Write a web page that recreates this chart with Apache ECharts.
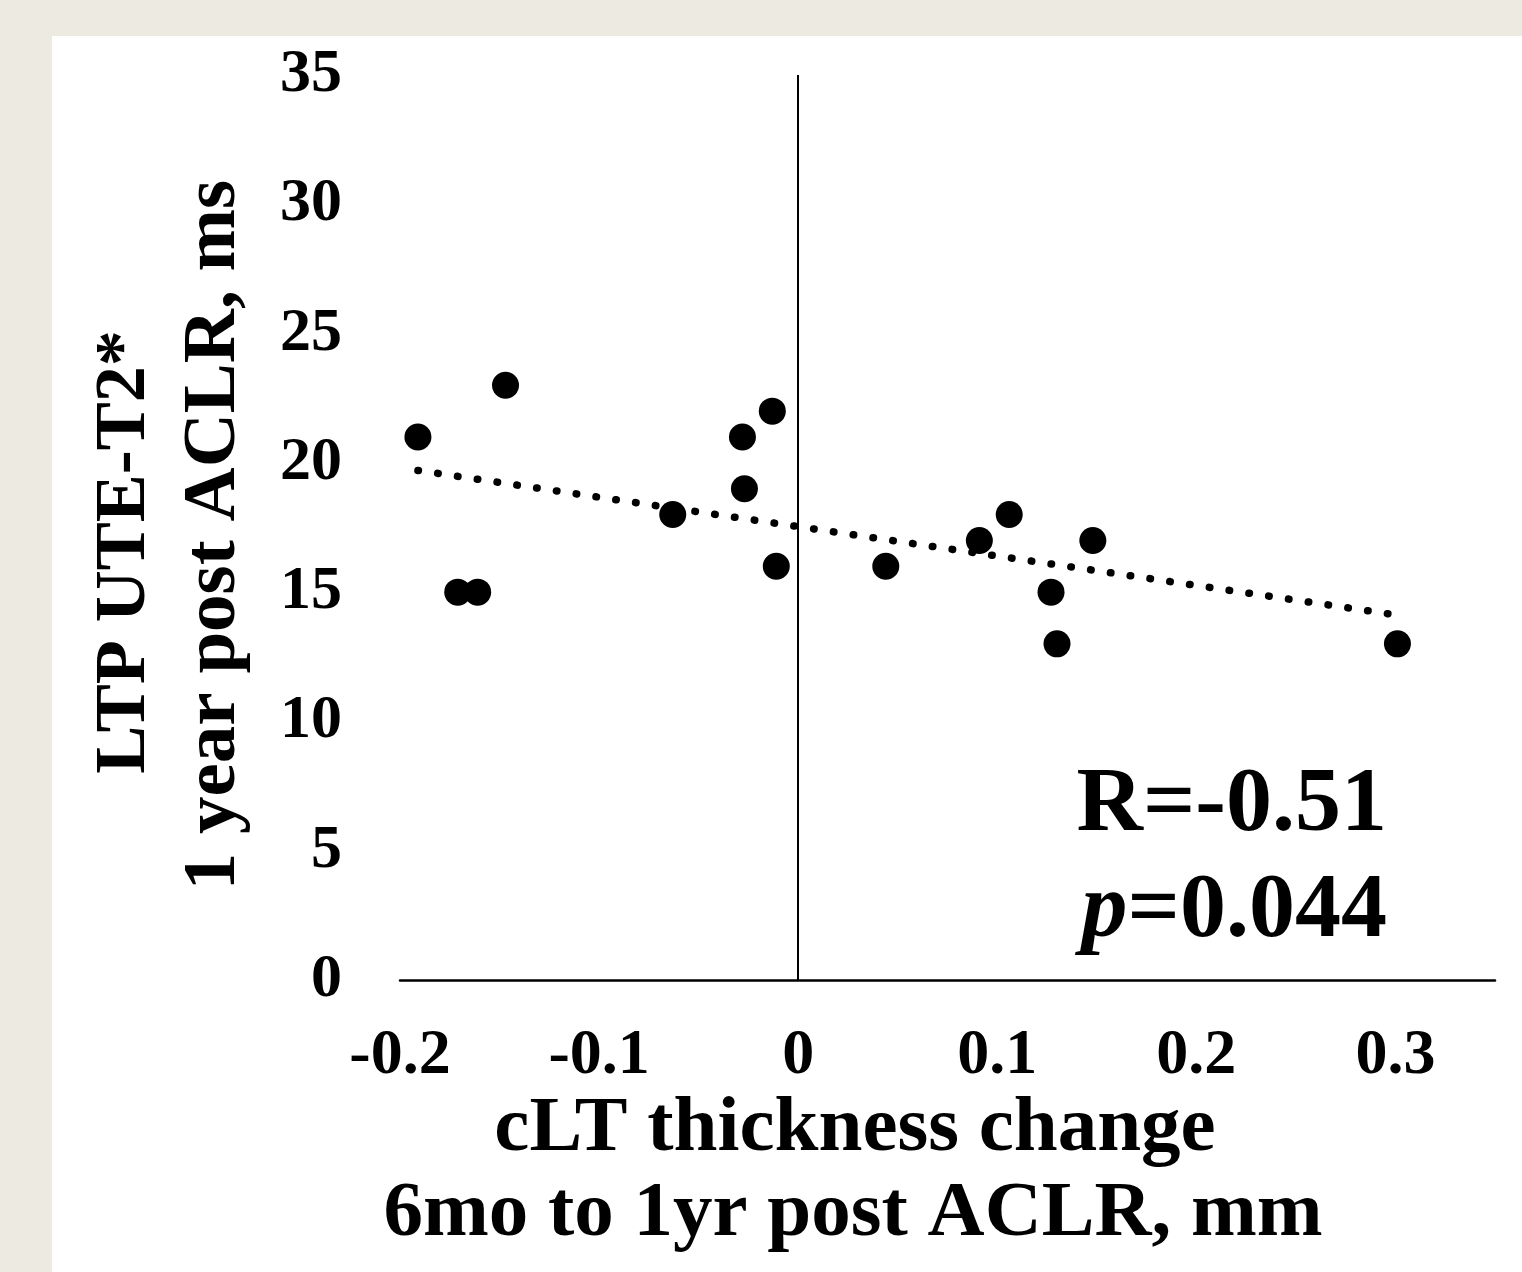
<!DOCTYPE html>
<html>
<head>
<meta charset="utf-8">
<script src="https://cdn.jsdelivr.net/npm/echarts@6/dist/echarts.min.js"></script>
<style>
  html, body { margin: 0; padding: 0; background: #EDEBE1; }
  #panel { position: absolute; left: 52px; top: 36px; right: 0; bottom: 0; background: #ffffff; }
  #chart { position: absolute; left: 0; top: 0; width: 1522px; height: 1272px; }
</style>
</head>
<body>
<div id="panel"></div>
<div id="chart"></div>
<script>
// Data
const thicknessChange = [-0.191, -0.147, -0.171, -0.161, -0.063, -0.028, -0.027, -0.013, -0.011,
                          0.044, 0.091, 0.106, 0.127, 0.130, 0.148, 0.301];
const ute_T2 = [21, 23, 15, 15, 18, 21, 19, 22, 16, 16, 17, 18, 15, 13, 17, 13];
const xTickLabels = ['-0.2', '-0.1', '0', '0.1', '0.2', '0.3'];
const yTickLabels = ['0', '5', '10', '15', '20', '25', '30', '35'];
const statLines = ['R=-0.51', '0.044'];

const points = thicknessChange.map((x, i) => [x, ute_T2[i]]);

// linear trendline (least squares) from the data
const n = points.length;
const mx = thicknessChange.reduce((a, b) => a + b, 0) / n;
const my = ute_T2.reduce((a, b) => a + b, 0) / n;
let sxy = 0, sxx = 0;
for (let i = 0; i < n; i++) {
  sxy += (thicknessChange[i] - mx) * (ute_T2[i] - my);
  sxx += (thicknessChange[i] - mx) * (thicknessChange[i] - mx);
}
const slope = sxy / sxx;
const intercept = my - slope * mx;
const xMin = Math.min(...thicknessChange), xMax = Math.max(...thicknessChange);
const trend = [[xMin, intercept + slope * xMin], [xMax, intercept + slope * xMax]];

const FONT = '"Liberation Serif", "Times New Roman", serif';
const chart = echarts.init(document.getElementById('chart'), null, { renderer: 'canvas' });

chart.setOption({
  backgroundColor: 'transparent',
  animation: false,
  grid: { left: 400, right: 27, top: 75, bottom: 292 },
  xAxis: {
    type: 'value', min: -0.2, max: 0.35, interval: 0.1,
    axisLine: { show: true, onZero: false, lineStyle: { color: '#000', width: 2.5 } },
    axisTick: { show: false },
    splitLine: { show: false },
    axisLabel: {
      color: '#000', fontFamily: FONT, fontWeight: 'bold', fontSize: 64, margin: 44,
      showMaxLabel: false,
      formatter: v => {
        const idx = Math.round((v + 0.2) / 0.1);
        return xTickLabels[idx] !== undefined ? xTickLabels[idx] : '';
      }
    }
  },
  yAxis: {
    type: 'value', min: 0, max: 35, interval: 5,
    axisLine: { show: false },
    axisTick: { show: false },
    splitLine: { show: false },
    axisLabel: {
      color: '#000', fontFamily: FONT, fontWeight: 'bold', fontSize: 62, margin: 58,
      formatter: v => yTickLabels[Math.round(v / 5)]
    }
  },
  series: [
    {
      type: 'line',
      data: trend,
      symbol: 'none',
      z: 3,
      lineStyle: { color: '#000', width: 7.5, type: [0.5, 19.5], cap: 'round' },
      silent: true
    },
    {
      type: 'scatter',
      data: points,
      symbol: 'circle',
      symbolSize: 27,
      z: 4,
      itemStyle: { color: '#000', opacity: 1 },
      markLine: {
        silent: true,
        symbol: 'none',
        label: { show: false },
        lineStyle: { color: '#000', width: 2, type: 'solid' },
        data: [[{ coord: [0, 0] }, { coord: [0, 35] }]]
      }
    }
  ],
  graphic: [
    {
      type: 'text', x: 125, y: 552, rotation: Math.PI / 2,
      style: { text: 'LTP UTE-T2*', fill: '#000', font: 'bold 72px ' + FONT, align: 'center', verticalAlign: 'middle' }
    },
    {
      type: 'text', x: 215, y: 535, rotation: Math.PI / 2,
      style: { text: '1 year post ACLR, ms', fill: '#000', font: 'bold 75px ' + FONT, align: 'center', verticalAlign: 'middle' }
    },
    {
      type: 'text', x: 855, y: 1130,
      style: { text: 'cLT thickness change', fill: '#000', font: 'bold 79px ' + FONT, align: 'center', verticalAlign: 'middle' }
    },
    {
      type: 'text', x: 853, y: 1215,
      style: { text: '6mo to 1yr post ACLR, mm', fill: '#000', font: 'bold 79px ' + FONT, align: 'center', verticalAlign: 'middle' }
    },
    {
      type: 'text', x: 1387, y: 806,
      style: { text: statLines[0], fill: '#000', font: 'bold 92px ' + FONT, align: 'right', verticalAlign: 'middle' }
    },
    {
      type: 'text', x: 1387, y: 912,
      style: {
        text: '{i|p}{b|=' + statLines[1] + '}',
        align: 'right', verticalAlign: 'middle',
        rich: {
          i: { fill: '#000', fontFamily: FONT, fontStyle: 'italic', fontWeight: 'bold', fontSize: 92 },
          b: { fill: '#000', fontFamily: FONT, fontWeight: 'bold', fontSize: 92 }
        }
      }
    }
  ]
});
</script>
</body>
</html>
